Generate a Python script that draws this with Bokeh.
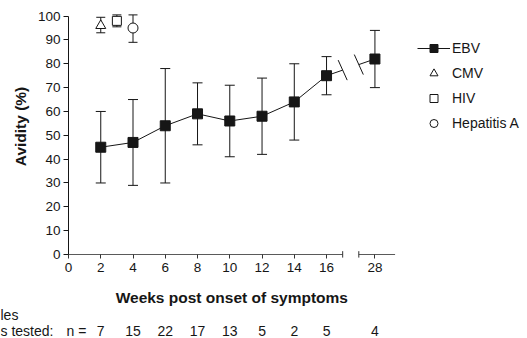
import numpy as np
from bokeh.plotting import figure
from bokeh.models import (ColumnDataSource, Whisker, TeeHead, FixedTicker, Range1d,
                          Legend, LegendItem, LinearAxis)
from bokeh.core.properties import value
from bokeh.embed import file_html
from bokeh.resources import INLINE

# ---------------- data ----------------
ebv_weeks = [2, 4, 6, 8, 10, 12, 14, 16, 28]
ebv_mean = [45, 47, 54, 59, 56, 58, 64, 75, 82]
ebv_low = [30, 29, 30, 46, 41, 42, 48, 67, 70]
ebv_high = [60, 65, 78, 72, 71, 74, 80, 83, 94]

cmv_weeks = [2]
cmv_mean = [96]
cmv_low = [93]
cmv_high = [99.5]

hiv_weeks = [3]
hiv_mean = [98]
hiv_low = [95.5]
hiv_high = [100.5]

hepa_weeks = [4]
hepa_mean = [95]
hepa_low = [89]
hepa_high = [100.5]

x_tick_weeks = [0, 2, 4, 6, 8, 10, 12, 14, 16, 28]
y_ticks = [0, 10, 20, 30, 40, 50, 60, 70, 80, 90, 100]

n_weeks = [2, 4, 6, 8, 10, 12, 14, 16, 28]
n_tested = [7, 15, 22, 17, 13, 5, 2, 5, 4]

# broken x axis: weeks 17..27 are cut out
BREAK_START = 17          # axis position where the left part ends
BREAK_END = 18            # axis position where the right part begins
AXIS_END = 20.25
WEEK_SHIFT = 28 - 19      # week 28 is drawn at position 19


def xpos(w):
    w = np.asarray(w, dtype=float)
    return np.where(w <= BREAK_START, w, w - WEEK_SHIFT)


FONT = "Liberation Sans"
INK = "#161616"

p = figure(width=527, height=338, output_backend="svg", toolbar_location=None,
           x_range=Range1d(-4.216, 28.46), y_range=Range1d(-35.23, 106.54),
           x_axis_type=None, y_axis_type=None,
           min_border_left=0, min_border_right=0, min_border_top=0,
           min_border_bottom=0)
p.outline_line_color = None
p.grid.visible = False
p.background_fill_color = "white"
p.border_fill_color = "white"

# ---------------- axes ----------------
yaxis = LinearAxis(fixed_location=0, ticker=FixedTicker(ticks=y_ticks), bounds=(0, 100))
yaxis.axis_line_color = INK
yaxis.major_tick_line_color = INK
yaxis.major_tick_out = 5
yaxis.major_tick_in = 0
yaxis.minor_tick_line_color = None
yaxis.major_label_standoff = 3
yaxis.major_label_text_font = FONT
yaxis.major_label_text_font_size = "13.5px"
yaxis.major_label_text_color = INK
p.add_layout(yaxis, "left")

tick_pos = [float(v) for v in xpos(x_tick_weeks)]
xaxis = LinearAxis(fixed_location=0, ticker=FixedTicker(ticks=tick_pos), bounds=(0, AXIS_END))
xaxis.major_label_overrides = {tp: str(w) for tp, w in zip(tick_pos, x_tick_weeks)}
xaxis.axis_line_color = None
xaxis.major_tick_line_color = "#333333"
xaxis.major_tick_in = 0
xaxis.major_tick_out = 4
xaxis.minor_tick_line_color = None
xaxis.major_label_standoff = 4
xaxis.major_label_text_font = FONT
xaxis.major_label_text_font_size = "13.5px"
xaxis.major_label_text_color = INK
p.add_layout(xaxis, "below")

# broken x axis line drawn at y = 0
p.segment(x0=[0, BREAK_END], y0=[0, 0], x1=[BREAK_START, AXIS_END], y1=[0, 0],
          line_color="#5a5a5a", line_width=1)
p.segment(x0=[BREAK_START, BREAK_END], y0=[-1.3, -1.3], x1=[BREAK_START, BREAK_END],
          y1=[1.4, 1.4], line_color="#333333", line_width=1)

# ---------------- error bars ----------------
def whiskers(weeks, low, high, cap):
    src = ColumnDataSource(dict(x=xpos(weeks), low=low, high=high))
    w = Whisker(source=src, base="x", lower="low", upper="high", dimension="height",
                line_color=INK, line_width=1, level="underlay",
                upper_head=TeeHead(size=cap, line_color=INK, line_width=1),
                lower_head=TeeHead(size=cap, line_color=INK, line_width=1))
    p.add_layout(w)


whiskers(ebv_weeks, ebv_low, ebv_high, 10)
whiskers(cmv_weeks, cmv_low, cmv_high, 9)
whiskers(hiv_weeks, hiv_low, hiv_high, 9)
whiskers(hepa_weeks, hepa_low, hepa_high, 9)

# ---------------- EBV line with break ----------------
ebv_x = xpos(ebv_weeks)
ebv_y = np.asarray(ebv_mean, dtype=float)
pre = ebv_x <= BREAK_START
line_r = p.line(ebv_x[pre], ebv_y[pre], line_color=INK, line_width=1)

x_last, y_last = ebv_x[pre][-1], ebv_y[pre][-1]
x_first, y_first = ebv_x[~pre][0], ebv_y[~pre][0]
yb = np.interp([BREAK_START, BREAK_END], [x_last, x_first], [y_last, y_first])
p.segment(x0=[x_last, BREAK_END], y0=[y_last, yb[1]], x1=[BREAK_START, x_first],
          y1=[yb[0], y_first], line_color=INK, line_width=1)
# break slashes
dx, dy = 0.28, 4.2
p.segment(x0=[BREAK_START - dx, BREAK_END - dx], y0=[yb[0] + dy, yb[1] + dy],
          x1=[BREAK_START + dx, BREAK_END + dx], y1=[yb[0] - dy, yb[1] - dy],
          line_color=INK, line_width=1)

sq_r = p.scatter(ebv_x, ebv_y, marker="square", size=10, fill_color=INK, line_color=INK)
tri_r = p.scatter(xpos(cmv_weeks), cmv_mean, marker="triangle", size=10,
                  fill_color="white", line_color=INK, line_width=1)
hsq_r = p.scatter(xpos(hiv_weeks), hiv_mean, marker="square", size=9,
                  fill_color="white", line_color=INK, line_width=1)
cir_r = p.scatter(xpos(hepa_weeks), hepa_mean, marker="circle", size=10,
                  fill_color="white", line_color=INK, line_width=1)

# ---------------- legend ----------------
legend = Legend(items=[LegendItem(label="EBV", renderers=[line_r, sq_r]),
                       LegendItem(label="CMV", renderers=[tri_r]),
                       LegendItem(label="HIV", renderers=[hsq_r]),
                       LegendItem(label="Hepatitis A", renderers=[cir_r])],
                location=(417, 205), orientation="vertical",
                glyph_width=33, glyph_height=20, label_height=20, spacing=5,
                label_standoff=2, padding=0, margin=0,
                border_line_color=None, background_fill_color=None,
                label_text_font=FONT, label_text_font_size="14px",
                label_text_color=INK)
p.add_layout(legend)

# ---------------- titles & sample counts ----------------
def txt(x, y, s, size, bold=False, align="center", angle=0.0):
    p.text(x=[x], y=[y], text=[s], angle=angle, text_font=value(FONT),
           text_font_size=value(size), text_font_style="bold" if bold else "normal",
           text_align=align, text_baseline="middle", text_color=INK)


ROW_Y = -31.9
txt(-2.976, 53.7, "Avidity (%)", "15.5px", bold=True, angle=np.pi / 2)
txt(AXIS_END / 2, -17.9, "Weeks post onset of symptoms", "15.5px", bold=True)
txt(-4.216, -25.4, "les", "14px", align="left")
txt(-4.216, ROW_Y, "s tested:", "14px", align="left")
txt(-0.124, ROW_Y, "n =", "14px", align="left")

n_src = ColumnDataSource(dict(x=xpos(n_weeks), y=[ROW_Y] * len(n_weeks),
                              t=[str(v) for v in n_tested]))
p.text(x="x", y="y", text="t", source=n_src, text_font=value(FONT),
       text_font_size=value("14px"), text_align="center", text_baseline="middle",
       text_color=INK)

open("out.html", "w").write(file_html(p, INLINE))
